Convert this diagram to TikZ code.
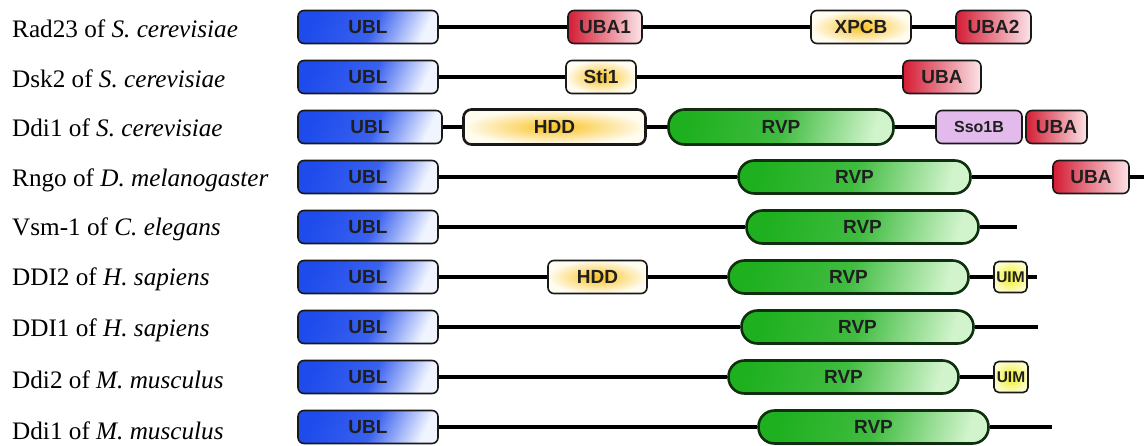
\documentclass[tikz,border=0pt]{standalone}
\usepackage{fontspec}
\setmainfont{Liberation Serif}
\setsansfont{Liberation Sans}
\usetikzlibrary{backgrounds}

\definecolor{ublA}{RGB}{30,75,236}
\definecolor{ublB}{RGB}{240,244,255}
\definecolor{ubaA}{RGB}{212,28,52}
\definecolor{ubaB}{RGB}{252,228,232}
\definecolor{yelA}{RGB}{250,194,34}
\definecolor{yelB}{RGB}{255,252,240}
\definecolor{rvpA}{RGB}{30,176,30}
\definecolor{rvpB}{RGB}{210,244,205}
\definecolor{rvpEdge}{RGB}{14,48,14}
\definecolor{ssoFill}{RGB}{226,186,236}
\definecolor{uimA}{RGB}{238,238,30}
\definecolor{uimB}{RGB}{252,252,200}

% domain fills: colour kept over most of the box, fading towards the right
\pgfdeclarehorizontalshading{ublfill}{100bp}{color(0bp)=(ublA); color(25bp)=(ublA);
  color(52bp)=(ublA!88!white); color(75bp)=(ublB); color(100bp)=(ublB)}
\pgfdeclarehorizontalshading{rvpfill}{100bp}{color(0bp)=(rvpA); color(25bp)=(rvpA);
  color(50bp)=(rvpA!85!white); color(75bp)=(rvpB); color(100bp)=(rvpB)}

\tikzset{
  dom/.style={draw=black!90, line width=1.6pt, rounded corners=6pt,
    minimum height=33pt, inner sep=0pt, text=black!88,
    font=\sffamily\bfseries\fontsize{19}{19}\selectfont},
  ubl/.style={dom, shading=ublfill, shading angle=-25},
  uba/.style={dom, left color=ubaA, right color=ubaB},
  yel/.style={dom, inner color=yelA, outer color=yelB},
  rvp/.style={dom, draw=rvpEdge, line width=2.6pt, rounded corners=16pt,
    shading=rvpfill, shading angle=-15},
  sso/.style={dom, fill=ssoFill, font=\sffamily\bfseries\fontsize{16}{16}\selectfont},
  uim/.style={dom, rounded corners=5pt, minimum height=31pt,
    inner color=uimA, outer color=uimB,
    font=\sffamily\bfseries\fontsize{15.5}{15.5}\selectfont},
  thick3/.style={line width=2.6pt, minimum height=35pt, rounded corners=8pt},
  chain/.style={line width=4pt, black},
  species/.style={anchor=base west, inner sep=0pt, font=\fontsize{25.2}{25.2}\selectfont},
}

\begin{document}
\begin{tikzpicture}[x=1pt, y=-1pt]
\useasboundingbox (0,0) rectangle (1144,445);

% organism labels
\node[species] (l1) at (12,37)  {Rad23 of \textit{S. cerevisiae}};
\node[species] (l2) at (12,87)  {Dsk2 of \textit{S. cerevisiae}};
\node[species] (l3) at (12,136) {Ddi1 of \textit{S. cerevisiae}};
\node[species] (l4) at (12,186) {Rngo of \textit{D. melanogaster}};
\node[species] (l5) at (12,235) {Vsm-1 of \textit{C. elegans}};
\node[species] (l6) at (12,285) {DDI2 of \textit{H. sapiens}};
\node[species] (l7) at (12,336) {DDI1 of \textit{H. sapiens}};
\node[species] (l8) at (12,388) {Ddi2 of \textit{M. musculus}};
\node[species] (l9) at (12,439) {Ddi1 of \textit{M. musculus}};

% Rad23
\node[ubl, minimum width=140pt] (a1) at (368,27) {UBL};
\node[uba, minimum width=74pt]  (a2) at (605,27) {UBA1};
\node[yel, minimum width=100pt] (a3) at (861,27) {XPCB};
\node[uba, minimum width=75pt]  (a4) at (993.5,27) {UBA2};

% Dsk2
\node[ubl, minimum width=140pt] (b1) at (368,77) {UBL};
\node[yel, minimum width=70pt]  (b2) at (601,77) {Sti1};
\node[uba, minimum width=78pt]  (b3) at (942,77) {UBA};

% Ddi1 (yeast)
\node[ubl, minimum width=144pt] (c1) at (370,127) {UBL};
\node[yel, thick3, minimum width=182pt] (c2) at (554.5,127) {HDD};
\node[rvp, minimum height=35pt, minimum width=225pt] (c3) at (781,127) {RVP};
\node[sso, minimum width=86pt]  (c4) at (979,127) {Sso1B};
\node[uba, minimum width=61pt]  (c5) at (1056.5,127) {UBA};

% Rngo
\node[ubl, minimum width=140pt] (d1) at (368,177) {UBL};
\node[rvp, minimum width=232pt] (d2) at (854.5,177) {RVP};
\node[uba, minimum width=76pt]  (d3) at (1091,177) {UBA};
\coordinate (d4) at (1144,177);

% Vsm-1
\node[ubl, minimum width=140pt] (e1) at (368,227) {UBL};
\node[rvp, minimum width=232pt] (e2) at (862.5,227) {RVP};
\coordinate (e3) at (1017,227);

% DDI2 (human)
\node[ubl, minimum width=140pt] (f1) at (368,277) {UBL};
\node[yel, minimum width=99pt]  (f2) at (597.5,277) {HDD};
\node[rvp, minimum width=240pt] (f3) at (848.5,277) {RVP};
\node[uim, minimum width=33pt]  (f4) at (1010.5,277) {UIM};
\coordinate (f5) at (1037,277);

% DDI1 (human)
\node[ubl, minimum width=140pt] (g1) at (368,327) {UBL};
\node[rvp, minimum width=232pt] (g2) at (857.5,327) {RVP};
\coordinate (g3) at (1038,327);

% Ddi2 (mouse)
\node[ubl, minimum width=140pt] (h1) at (368,377) {UBL};
\node[rvp, minimum width=230pt] (h2) at (843.5,377) {RVP};
\node[uim, minimum width=34pt]  (h3) at (1011,377) {UIM};

% Ddi1 (mouse)
\node[ubl, minimum width=140pt] (i1) at (368,427) {UBL};
\node[rvp, minimum width=230pt] (i2) at (873.5,427) {RVP};
\coordinate (i3) at (1052,427);

% backbone lines behind the domains
\begin{scope}[on background layer]
  \draw[chain] (a1.east) -- (a2.west) (a2.east) -- (a3.west) (a3.east) -- (a4.west);
  \draw[chain] (b1.east) -- (b2.west) (b2.east) -- (b3.west);
  \draw[chain] (c1.east) -- (c2.west) (c2.east) -- (c3.west) (c3.east) -- (c4.west);
  \draw[chain] (d1.east) -- (d2.west) (d2.east) -- (d3.west) (d3.east) -- (d4);
  \draw[chain] (e1.east) -- (e2.west) (e2.east) -- (e3);
  \draw[chain] (f1.east) -- (f2.west) (f2.east) -- (f3.west) (f3.east) -- (f4.west) (f4.east) -- (f5);
  \draw[chain] (g1.east) -- (g2.west) (g2.east) -- (g3);
  \draw[chain] (h1.east) -- (h2.west) (h2.east) -- (h3.west);
  \draw[chain] (i1.east) -- (i2.west) (i2.east) -- (i3);
\end{scope}
\end{tikzpicture}
\end{document}
